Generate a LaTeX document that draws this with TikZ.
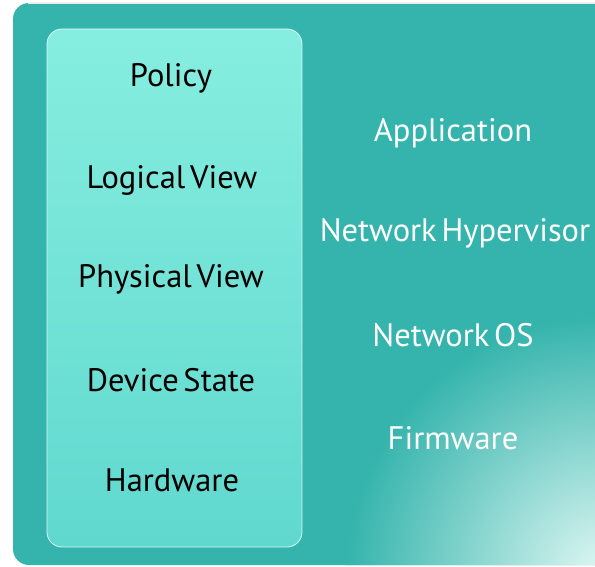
\documentclass[tikz,border=0pt]{standalone}
\usepackage{fontspec}
\setmainfont{PT Sans}[WordSpace=0.55]
\definecolor{outerteal}{RGB}{52,180,172}
\definecolor{innertop}{RGB}{134,238,224}
\definecolor{innerbot}{RGB}{96,216,206}
\definecolor{spot}{RGB}{225,248,244}
\tikzset{
  lefttext/.style={font=\fontsize{32.5}{38}\selectfont, text=black, anchor=center},
  righttext/.style={font=\fontsize{32.5}{38}\selectfont, text=white, anchor=center},
}
\begin{document}
\begin{tikzpicture}[x=1pt,y=-1pt]
\useasboundingbox (0,0) rectangle (595,567);
\fill[white] (0,0) rectangle (595,567);
% outer panel
\fill[outerteal, rounded corners=16pt] (13,3) rectangle (615,565);
\begin{scope}
  \clip[rounded corners=16pt] (13,3) rectangle (615,565);
  \shade[inner color=spot, outer color=outerteal] (605-260,575-260) rectangle (605+260,575+260);
\end{scope}
\draw[white!85!gray, line width=0.6pt] (28,3) -- (615,3);
% inner panel
\shade[top color=innertop, bottom color=innerbot, rounded corners=15pt, draw=white!70!innertop, line width=0.8pt]
  (47,29) rectangle (302,547);
% left labels
\node[lefttext] (policy) at (171,78) {Policy};
\node[lefttext] (logical) at (172,180) {Logical View};
\node[lefttext] (physical) at (171,279) {Physical View};
\node[lefttext] (device) at (171,380) {Device State};
\node[lefttext] (hardware) at (172,480) {Hardware};
% right labels
\node[righttext] (app) at (453,133) {Application};
\node[righttext] (hyper) at (455,233) {Network Hypervisor};
\node[righttext] (nos) at (453,335) {Network OS};
\node[righttext] (firm) at (453,438) {Firmware};
\end{tikzpicture}
\end{document}
